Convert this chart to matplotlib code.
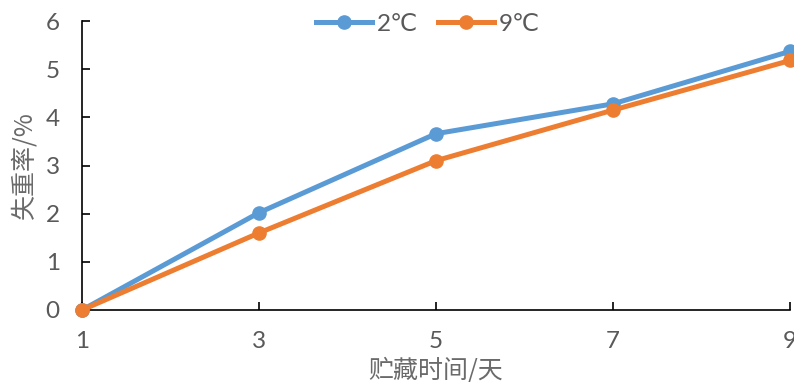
import matplotlib
matplotlib.use("Agg")
import matplotlib.pyplot as plt

days = ["1", "3", "5", "7", "9"]
loss_2c = [0.0, 2.02, 3.66, 4.28, 5.37]
loss_9c = [0.0, 1.60, 3.10, 4.15, 5.18]
series_names = ["2℃", "9℃"]
y_ticks = [0, 1, 2, 3, 4, 5, 6]

cjk = ["Noto Sans CJK SC", "DejaVu Sans"]
num_font = ["Lato", "DejaVu Sans"]
gray = "#595959"

fig = plt.figure(figsize=(7.94, 3.82), dpi=100)
ax = fig.add_axes([82 / 794, 1 - 310 / 382, (790 - 82) / 794, (310 - 21) / 382])

x = list(range(len(days)))
ax.plot(x, loss_2c, color="#5B9BD5", lw=3.6, marker="o", ms=9.5,
        label=series_names[0], clip_on=False, zorder=3)
ax.plot(x, loss_9c, color="#ED7D31", lw=3.6, marker="o", ms=9.5,
        label=series_names[1], clip_on=False, zorder=4)

ax.set_xlim(0, len(days) - 1)
ax.set_ylim(0, 6)
ax.set_xticks(x)
ax.set_xticklabels(days)
ax.set_yticks(y_ticks)

for s in ["top", "right"]:
    ax.spines[s].set_visible(False)
for s in ["left", "bottom"]:
    ax.spines[s].set_linewidth(1.2)
    ax.spines[s].set_color("black")

ax.tick_params(axis="both", direction="in", length=6, width=1.2,
               colors="black", labelcolor=gray, labelsize=17.5)
ax.tick_params(axis="x", pad=15)
ax.tick_params(axis="y", pad=16)
for lab in ax.get_xticklabels() + ax.get_yticklabels():
    lab.set_family(num_font)

ax.set_ylabel("失重率/%", family=cjk, fontsize=18, color="#6a6a6a", labelpad=6)
ax.set_xlabel("贮藏时间/天", family=cjk, fontsize=18, color="#6a6a6a", labelpad=4)

leg = ax.legend(loc="upper center", bbox_to_anchor=(0.489, 1.10), ncol=2,
                frameon=False, prop={"family": num_font, "size": 17.5},
                handlelength=2.3, handletextpad=0.2, columnspacing=0.8)
for t in leg.get_texts():
    t.set_color(gray)

fig.savefig("out.png", dpi=100)
